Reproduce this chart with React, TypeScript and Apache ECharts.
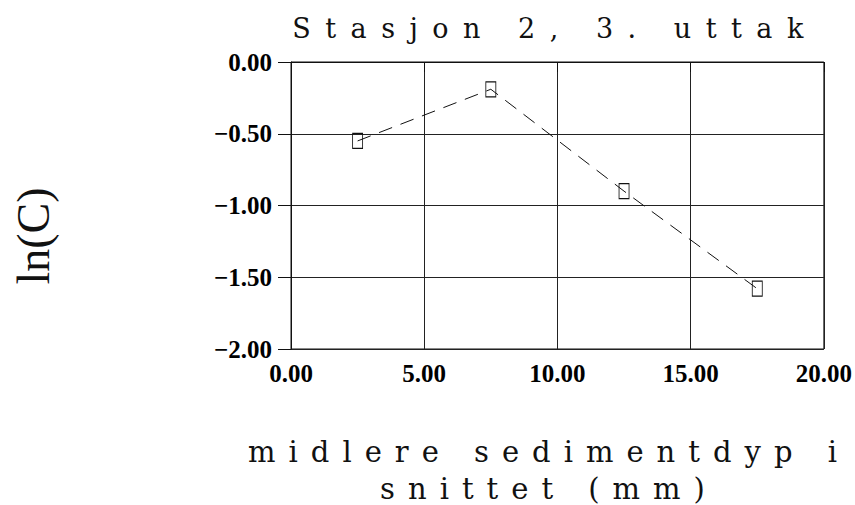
import React, { useEffect, useRef } from "react";
import * as echarts from "echarts";

const titleText = "Stasjon 2, 3. uttak";
const xAxisTitle = "midlere sedimentdyp i\nsnittet (mm)";
const yAxisTitle = "ln(C)";

const depthMm = [2.5, 7.5, 12.5, 17.5];
const lnC = [-0.55, -0.19, -0.9, -1.58];

const xMin = 0;
const xMax = 20;
const xStep = 5;
const yMin = -2;
const yMax = 0;
const yStep = 0.5;

const fmt = (v: number) => {
  const s = Math.abs(v).toFixed(2);
  return v < -1e-9 ? "\u2212" + s : s;
};

const SERIF = "'Liberation Serif', 'Times New Roman', serif";
const WIDE_SERIF = "'DejaVu Serif', serif";

export default function App() {
  const ref = useRef<HTMLDivElement>(null);

  useEffect(() => {
    if (!ref.current) return;
    const chart = echarts.init(ref.current, undefined, { renderer: "svg" });
    const spaced = (family: string, ls: number) =>
      `${family};letter-spacing:${ls}px`;
    chart.setOption({
      animation: false,
      backgroundColor: "#ffffff",
      grid: {
        left: 291,
        right: 28,
        top: 62,
        bottom: 156,
        show: true,
        borderColor: "#111",
        borderWidth: 1,
        backgroundColor: "transparent",
      },
      xAxis: {
        type: "value",
        min: xMin,
        max: xMax,
        interval: xStep,
        axisLine: { show: true, lineStyle: { color: "#111", width: 1 } },
        axisTick: { show: true, inside: false, length: 10, lineStyle: { color: "#111" } },
        splitLine: { show: true, lineStyle: { color: "#222", width: 1 } },
        axisLabel: {
          formatter: fmt,
          color: "#000",
          fontFamily: SERIF,
          fontWeight: "bold",
          fontSize: 25,
          margin: 12,
        },
      },
      yAxis: {
        type: "value",
        min: yMin,
        max: yMax,
        interval: yStep,
        axisLine: { show: true, lineStyle: { color: "#111", width: 1 } },
        axisTick: { show: true, inside: false, length: 13, lineStyle: { color: "#111" } },
        splitLine: { show: true, lineStyle: { color: "#222", width: 1 } },
        axisLabel: {
          formatter: fmt,
          color: "#000",
          fontFamily: SERIF,
          fontWeight: "bold",
          fontSize: 25,
          margin: 19,
        },
      },
      graphic: [
        {
          type: "text",
          x: 555,
          y: 28,
          style: {
            text: titleText,
            fill: "#111",
            fontFamily: spaced(WIDE_SERIF, 14.5),
            fontSize: 27,
            textAlign: "center",
            textVerticalAlign: "middle",
          },
        },
        {
          type: "text",
          x: 33,
          y: 236,
          rotation: Math.PI / 2,
          style: {
            text: yAxisTitle,
            fill: "#111",
            fontFamily: SERIF,
            fontSize: 46,
            textAlign: "center",
            textVerticalAlign: "middle",
          },
        },
        {
          type: "text",
          x: 549,
          y: 470,
          style: {
            text: xAxisTitle,
            fill: "#111",
            fontFamily: spaced(WIDE_SERIF, 13),
            fontSize: 29,
            lineHeight: 37,
            textAlign: "center",
            textVerticalAlign: "middle",
          },
        },
      ],
      series: [
        {
          type: "line",
          data: depthMm.map((x, i) => [x, lnC[i]]),
          symbol: "rect",
          symbolSize: [10, 15],
          lineStyle: { color: "#111", width: 1, type: [14, 9] },
          itemStyle: { color: "rgba(0,0,0,0)", borderColor: "#111", borderWidth: 1 },
          emphasis: { disabled: true },
        },
      ],
    });
    return () => chart.dispose();
  }, []);

  return (
    <div
      ref={ref}
      style={{ position: "fixed", left: 0, top: 0, width: 855, height: 505, background: "#fff" }}
    />
  );
}
